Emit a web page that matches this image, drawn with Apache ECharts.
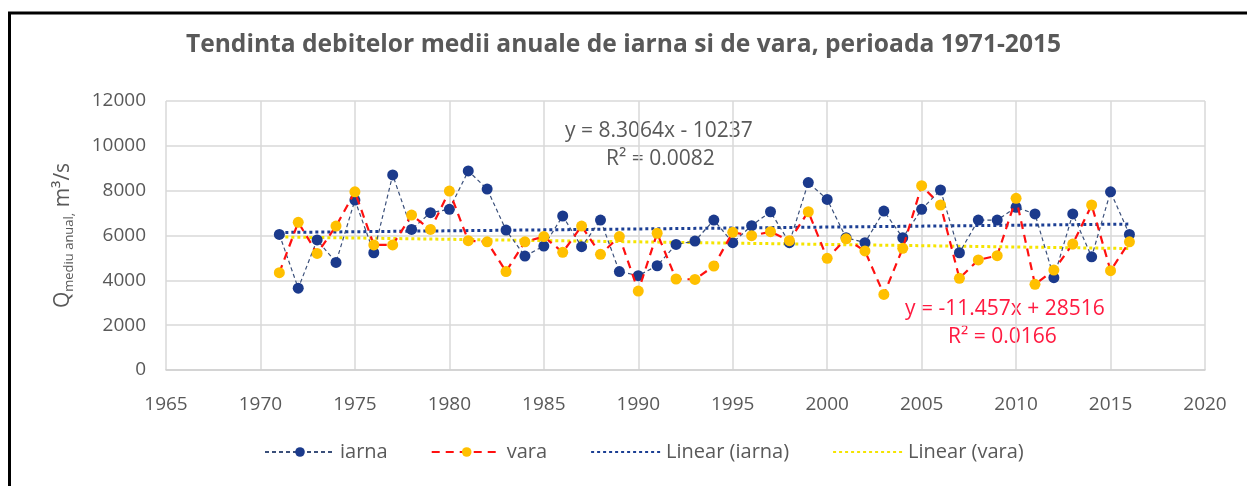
<!DOCTYPE html>
<html>
<head>
<meta charset="utf-8">
<script src="https://cdn.jsdelivr.net/npm/echarts@6/dist/echarts.min.js"></script>
<style>
  html, body { margin: 0; padding: 0; background: #ffffff; }
  #chart { width: 1247px; height: 486px; }
</style>
</head>
<body>
<div id="chart"></div>
<script>
// Annual mean winter (iarna) and summer (vara) discharges, m3/s
const years = [
  1971, 1972, 1973, 1974, 1975, 1976, 1977, 1978, 1979, 1980,
  1981, 1982, 1983, 1984, 1985, 1986, 1987, 1988, 1989, 1990,
  1991, 1992, 1993, 1994, 1995, 1996, 1997, 1998, 1999, 2000,
  2001, 2002, 2003, 2004, 2005, 2006, 2007, 2008, 2009, 2010,
  2011, 2012, 2013, 2014, 2015, 2016
];
const iarna = [
  6050, 3650, 5800, 4800, 7580, 5230, 8700, 6270, 7020, 7170,
  8880, 8070, 6240, 5080, 5530, 6870, 5500, 6690, 4390, 4210,
  4650, 5600, 5750, 6690, 5680, 6440, 7060, 5680, 8360, 7610,
  5900, 5680, 7090, 5900, 7170, 8030, 5230, 6690, 6690, 7260,
  6960, 4120, 6960, 5050, 7950, 6050
];
const vara = [
  4340, 6590, 5200, 6420, 7950, 5580, 5580, 6910, 6270, 7980,
  5770, 5720, 4390, 5720, 5950, 5250, 6420, 5160, 5950, 3520,
  6100, 4060, 4040, 4640, 6140, 5990, 6170, 5770, 7060, 4980,
  5850, 5310, 3370, 5430, 8220, 7360, 4090, 4910, 5100, 7660,
  3820, 4460, 5620, 7360, 4430, 5720
];

// Linear trend coefficients (slope, intercept) and fit quality
const trendIarna = [8.3064, -10237];
const trendVara = [-11.457, 28516];
const r2Iarna = 0.0082;
const r2Vara = 0.0166;

// Axis settings: min, max, step
const xTicks = [1965, 2020, 5];
const yTicks = [0, 12000, 2000];

const seriesNames = ['iarna', 'vara', 'Linear (iarna)', 'Linear (vara)'];
const titleText = 'Tendinta debitelor medii anuale de iarna si de vara, perioada 1971-2015';

const pairs = (xs, ys) => xs.map((x, i) => [x, ys[i]]);
const trendLine = (c) => {
  const x0 = years[0], x1 = years[years.length - 1];
  return [[x0, c[0] * x0 + c[1]], [x1, c[0] * x1 + c[1]]];
};
const fmtSigned = (v) => (v < 0 ? '- ' : '+ ') + Math.abs(v);

const FONT = '"Open Sans", Lato, sans-serif';
const TXT = '#595959';
const RED = '#ff1a40';

const chart = echarts.init(document.getElementById('chart'), null, { renderer: 'canvas' });

chart.setOption({
  animation: false,
  backgroundColor: '#ffffff',
  textStyle: { fontFamily: FONT },
  title: {
    text: titleText,
    left: 'center',
    top: 27,
    textStyle: { fontFamily: FONT, fontSize: 24.6, fontWeight: 'bold', color: TXT }
  },
  grid: { left: 166, right: 42, top: 101, bottom: 116 },
  legend: {
    data: seriesNames,
    bottom: 19,
    left: 259,
    itemWidth: 70,
    itemHeight: 12,
    itemGap: 43,
    textStyle: { fontFamily: FONT, fontSize: 20, color: TXT }
  },
  xAxis: {
    type: 'value',
    min: xTicks[0],
    max: xTicks[1],
    interval: xTicks[2],
    axisLine: { show: true, lineStyle: { color: '#d0d0d0', width: 1.5 } },
    axisTick: { show: false },
    splitLine: { show: true, lineStyle: { color: '#d9d9d9', width: 1.5 } },
    axisLabel: { fontFamily: FONT, fontSize: 19, color: TXT, margin: 25, formatter: (v) => String(v) }
  },
  yAxis: {
    type: 'value',
    min: yTicks[0],
    max: yTicks[1],
    interval: yTicks[2],
    axisLine: { show: false },
    axisTick: { show: false },
    splitLine: { show: true, lineStyle: { color: '#d9d9d9', width: 1.5 } },
    axisLabel: { fontFamily: FONT, fontSize: 19, color: TXT, margin: 20, formatter: (v) => String(v) },
    name: '{q|Q}{sub|mediu anual,}{q| m³/s}',
    nameLocation: 'middle',
    nameGap: 90,
    nameRotate: 90,
    nameTextStyle: {
      fontFamily: FONT,
      color: TXT,
      rich: {
        q: { fontFamily: FONT, fontSize: 21, color: TXT, lineHeight: 26, verticalAlign: 'middle' },
        sub: { fontFamily: FONT, fontSize: 13, color: TXT, lineHeight: 13, verticalAlign: 'bottom' }
      }
    }
  },
  series: [
    {
      name: seriesNames[2],
      type: 'line',
      data: trendLine(trendIarna),
      symbol: 'none',
      z: 1,
      lineStyle: { color: '#1c3f94', width: 3, type: [3, 3] },
      itemStyle: { color: 'rgba(0,0,0,0)' }
    },
    {
      name: seriesNames[3],
      type: 'line',
      data: trendLine(trendVara),
      symbol: 'none',
      z: 1,
      lineStyle: { color: '#f5e400', width: 3, type: [3, 3] },
      itemStyle: { color: 'rgba(0,0,0,0)' }
    },
    {
      name: seriesNames[0],
      type: 'line',
      data: pairs(years, iarna),
      symbol: 'circle',
      symbolSize: 11,
      z: 2,
      itemStyle: { color: '#1b3a8c' },
      lineStyle: { color: '#3a4f7a', width: 1.2, type: [4, 3] }
    },
    {
      name: seriesNames[1],
      type: 'line',
      data: pairs(years, vara),
      symbol: 'circle',
      symbolSize: 11,
      z: 3,
      itemStyle: { color: '#ffc000' },
      lineStyle: { color: '#ff1010', width: 2.2, type: [8, 6] }
    }
  ],
  graphic: [
    {
      type: 'rect',
      shape: { x: 9.5, y: 13, width: 1400, height: 700 },
      style: { fill: 'none', stroke: '#000000', lineWidth: 3 },
      silent: true
    },
    {
      type: 'text',
      left: 565, top: 121,
      style: { text: 'y = ' + trendIarna[0] + 'x ' + fmtSigned(trendIarna[1]), font: '21px ' + FONT, fill: TXT }
    },
    {
      type: 'text',
      left: 606, top: 149,
      style: { text: 'R² = ' + r2Iarna.toFixed(4), font: '21px ' + FONT, fill: TXT }
    },
    {
      type: 'text',
      left: 905, top: 299,
      style: { text: 'y = ' + trendVara[0] + 'x ' + fmtSigned(trendVara[1]), font: '21px ' + FONT, fill: RED }
    },
    {
      type: 'text',
      left: 948, top: 327,
      style: { text: 'R² = ' + r2Vara.toFixed(4), font: '21px ' + FONT, fill: RED }
    }
  ]
});
</script>
</body>
</html>
